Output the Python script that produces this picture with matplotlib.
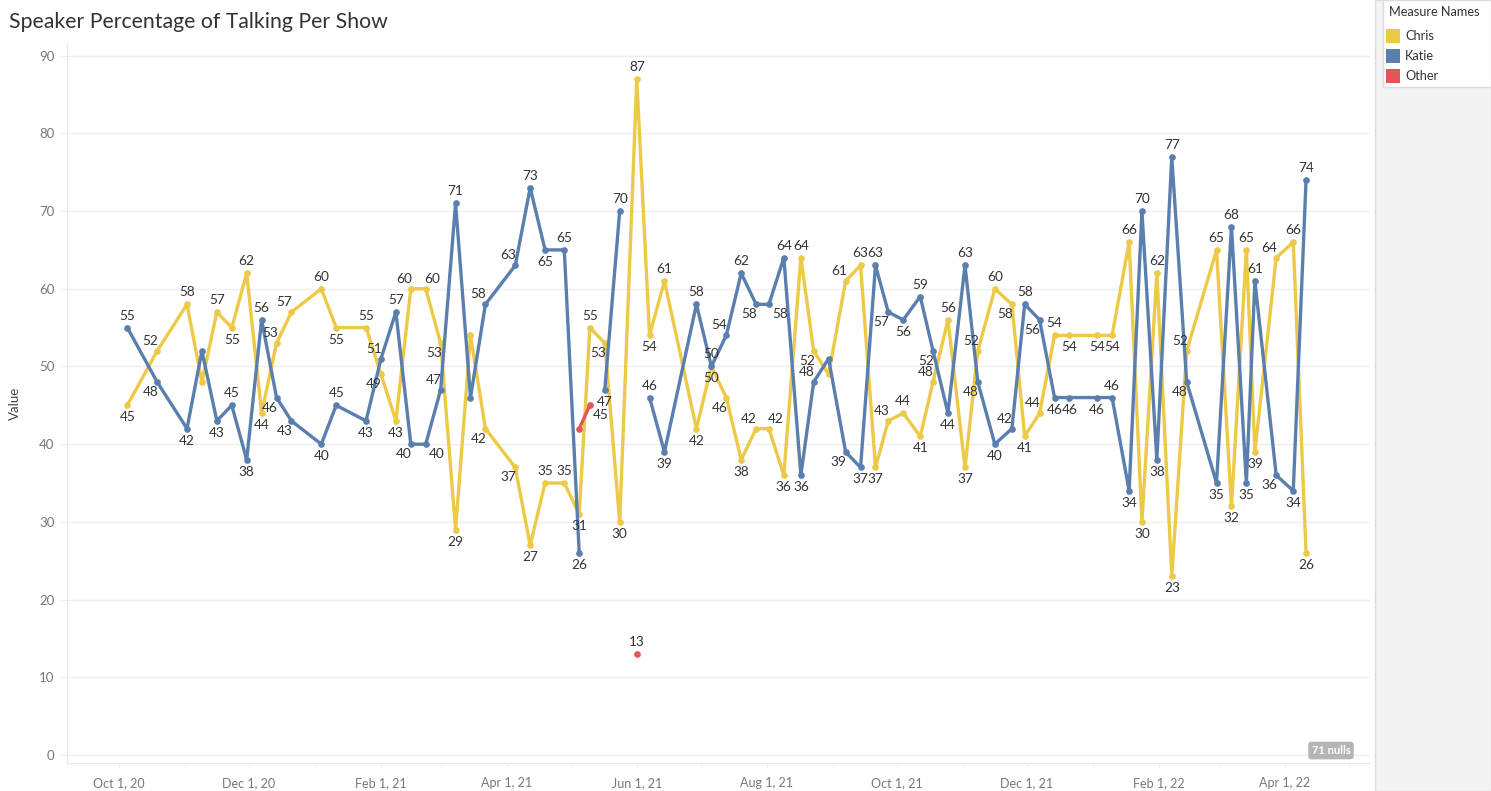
import numpy as np
import pandas as pd
import matplotlib
matplotlib.use('Agg')
import matplotlib.pyplot as plt
import matplotlib.dates as mdates
from matplotlib.patches import Rectangle

plt.rcParams['font.family'] = ['Lato', 'DejaVu Sans']

# Show dates and share of talking (%) per speaker
dates = ['2020-10-05', '2020-10-19', '2020-11-02', '2020-11-09', '2020-11-16', '2020-11-23',
         '2020-11-30', '2020-12-07', '2020-12-14', '2020-12-21', '2021-01-04', '2021-01-11',
         '2021-01-25', '2021-02-01', '2021-02-08', '2021-02-15', '2021-02-22', '2021-03-01',
         '2021-03-08', '2021-03-15', '2021-03-22', '2021-04-05', '2021-04-12', '2021-04-19',
         '2021-04-28', '2021-05-05', '2021-05-10', '2021-05-17', '2021-05-24', '2021-06-01',
         '2021-06-07', '2021-06-14', '2021-06-29', '2021-07-06', '2021-07-13', '2021-07-20',
         '2021-07-27', '2021-08-02', '2021-08-09', '2021-08-17', '2021-08-23', '2021-08-30',
         '2021-09-07', '2021-09-14', '2021-09-21', '2021-09-27', '2021-10-04', '2021-10-12',
         '2021-10-18', '2021-10-25', '2021-11-02', '2021-11-08', '2021-11-16', '2021-11-24',
         '2021-11-30', '2021-12-07', '2021-12-14', '2021-12-21', '2022-01-03', '2022-01-10',
         '2022-01-18', '2022-01-24', '2022-01-31', '2022-02-07', '2022-02-14', '2022-02-28',
         '2022-03-07', '2022-03-14', '2022-03-18', '2022-03-28', '2022-04-05', '2022-04-11']
nan = np.nan
chris = [45, 52, 58, 48, 57, 55, 62, 44, 53, 57, 60, 55,
         55, 49, 43, 60, 60, 53, 29, 54, 42, 37, 27, 35,
         35, 31, 55, 53, 30, 87, 54, 61, 42, 50, 46, 38,
         42, 42, 36, 64, 52, 49, 61, 63, 37, 43, 44, 41,
         48, 56, 37, 52, 60, 58, 41, 44, 54, 54, 54, 54,
         66, 30, 62, 23, 52, 65, 32, 65, 39, 64, 66, 26]
katie = [55, 48, 42, 52, 43, 45, 38, 56, 46, 43, 40, 45,
         43, 51, 57, 40, 40, 47, 71, 46, 58, 63, 73, 65,
         65, 26, nan, 47, 70, nan, 46, 39, 58, 50, 54, 62,
         58, 58, 64, 36, 48, 51, 39, 37, 63, 57, 56, 59,
         52, 44, 63, 48, 40, 42, 58, 56, 46, 46, 46, 46,
         34, 70, 38, 77, 48, 35, 68, 35, 61, 36, 34, 74]
other = [nan] * 25 + [42, 45, nan, nan, 13] + [nan] * 42

series = [('Chris', chris, '#EDC948'), ('Katie', katie, '#5A7FAF'), ('Other', other, '#E15759')]

# labels Tableau dropped because they overlapped
hidden = {('Chris', '2020-11-09'), ('Katie', '2020-11-09'), ('Chris', '2021-03-15'),
          ('Katie', '2021-03-15'), ('Chris', '2021-08-30'), ('Katie', '2021-08-30'),
          ('Other', '2021-05-05')}
# a few labels that sit somewhere else in the original
moved = {('Other', '2021-05-10'): 'downright',
         ('Chris', '2021-07-27'): 'upleft', ('Chris', '2021-08-02'): 'upright',
         ('Katie', '2021-07-27'): 'downleft', ('Katie', '2021-08-02'): 'downright',
         ('Chris', '2021-02-15'): 'upleft', ('Chris', '2021-02-22'): 'upright',
         ('Katie', '2021-02-15'): 'downleft', ('Katie', '2021-02-22'): 'downright'}

x = pd.to_datetime(dates)

W, H = 1491, 791
fig = plt.figure(figsize=(W / 100, H / 100), dpi=100)
ax = fig.add_axes([67 / W, 1 - 763 / H, (1370 - 67) / W, (763 - 44) / H])


def where(vals, i):
    v = vals[i]
    p = vals[i - 1] if i > 0 else nan
    n = vals[i + 1] if i < len(vals) - 1 else nan
    if np.isnan(p) and np.isnan(n):
        return 'above'
    if np.isnan(p):
        return 'above' if v >= n else 'below'
    if np.isnan(n):
        return 'above' if v >= p else 'below'
    if v == p == n:
        return 'below'
    if v >= p and v >= n:
        return 'above'
    if v <= p and v <= n:
        return 'below'
    return 'upleft' if n > v else 'downleft'


place = {'above': (0, 6, 'center', 'bottom'), 'below': (0, -6, 'center', 'top'),
         'upleft': (1, 4, 'right', 'bottom'), 'downleft': (1, -4, 'right', 'top'),
         'upright': (-1, 4, 'left', 'bottom'), 'downright': (3, -4, 'left', 'top')}

for name, vals, color in series:
    vals = [float(v) for v in vals]
    ax.plot(x, vals, color=color, lw=2.4, marker='o', ms=3.8, solid_joinstyle='round', zorder=3)
    for i, v in enumerate(vals):
        if np.isnan(v) or (name, dates[i]) in hidden:
            continue
        pos = moved.get((name, dates[i]), where(vals, i))
        dx, dy, ha, va = place[pos]
        ax.annotate(f'{v:.0f}', (x[i], v), xytext=(dx, dy), textcoords='offset pixels',
                    ha=ha, va=va, fontsize=9.8, color='#333333', zorder=4)

ax.set_ylim(-1.03, 91.5)
ax.set_yticks(range(0, 91, 10))
ax.set_xlim(pd.Timestamp('2020-10-01') - pd.Timedelta(days=24.3),
            pd.Timestamp('2020-10-01') + pd.Timedelta(days=587))
ax.xaxis.set_major_locator(mdates.MonthLocator(bymonth=[2, 4, 6, 8, 10, 12]))
ax.xaxis.set_minor_locator(mdates.MonthLocator())
ax.xaxis.set_major_formatter(plt.FuncFormatter(
    lambda v, pos: (lambda d: f'{d:%b} {d.day}, {d:%y}')(mdates.num2date(v))))

ax.grid(axis='y', color='#efefef', lw=1)
ax.set_axisbelow(True)
for s in ['top', 'right']:
    ax.spines[s].set_visible(False)
for s in ['left', 'bottom']:
    ax.spines[s].set_color('#e8e8e8')
ax.tick_params(axis='y', length=6, color='#efefef', labelsize=9.5, labelcolor='#777777', pad=3)
ax.tick_params(axis='x', which='both', length=3, color='#e8e8e8', labelsize=9,
               labelcolor='#777777', pad=7)
ax.set_ylabel('Value', fontsize=9.5, color='#444444', labelpad=13)

fig.text(9 / W, 1 - 22 / H, 'Speaker Percentage of Talking Per Show', fontsize=15.3,
         color='#333333', va='center', ha='left')

# nulls badge
fig.text(1331 / W, 1 - 750.5 / H, '71 nulls', fontsize=8, color='white', weight='bold',
         ha='center', va='center',
         bbox=dict(boxstyle='round,pad=0.3,rounding_size=0.3', fc='#b5b5b5', ec='none'))

# right side legend panel
fig.patches.append(Rectangle((1375 / W, 0), 1 - 1375 / W, 1, transform=fig.transFigure,
                             fc='#f3f3f3', ec='#dddddd', lw=1, zorder=0))
fig.patches.append(Rectangle((1382.5 / W, 1 - 87 / H), 1 - 1382.5 / W, 87 / H,
                             transform=fig.transFigure, fc='white', ec='#dcdcdc', lw=1))
fig.text(1389 / W, 1 - 12.5 / H, 'Measure Names', fontsize=9.2, color='#333333',
         va='center', ha='left')
for k, (name, vals, color) in enumerate(series):
    yc = 36 + 20 * k
    fig.patches.append(Rectangle((1386 / W, 1 - (yc + 7) / H), 14 / W, 14 / H,
                                 transform=fig.transFigure, fc=color, ec='none'))
    fig.text(1405 / W, 1 - yc / H, name, fontsize=9.2, color='#333333', va='center', ha='left')

fig.savefig('out.png', dpi=100)
